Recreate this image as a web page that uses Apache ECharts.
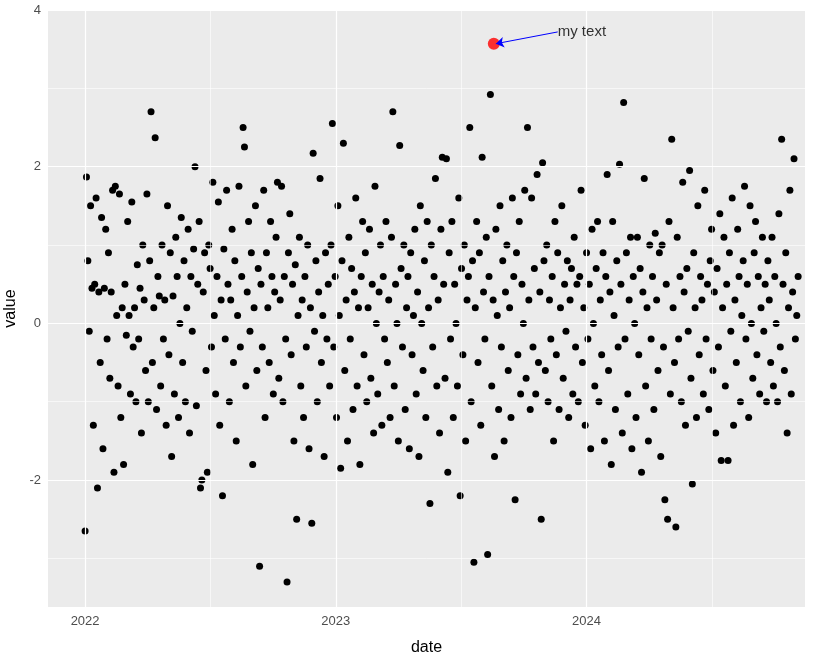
<!DOCTYPE html>
<html><head><meta charset="utf-8">
<script src="https://cdn.jsdelivr.net/npm/echarts@6/dist/echarts.min.js"></script>
<style>html,body{margin:0;padding:0;background:#fff}#c{width:818px;height:665px}</style>
</head><body><div id="c"></div>
<script>
const startDate = '2022-01-01';
const stepDays = 2;
const values = [
-2.65,1.87,0.8,-0.1,1.5,0.45,-1.3,0.5,1.6,-2.1,0.4,-0.5,1.35,-1.6,0.45,1.2,-0.2,0.9,-0.7,0.4,
1.7,-1.9,1.75,0.1,-0.8,1.65,-1.2,0.2,-1.8,0.5,-0.15,1.3,0.1,-0.9,1.55,-0.3,0.2,-1.0,0.75,-0.2,
0.45,-1.4,1.0,0.3,-0.6,1.65,-1.0,0.8,2.7,-0.5,0.2,2.37,-1.1,0.6,0.35,-0.8,1.0,-0.2,0.3,-1.3,
1.5,-0.4,0.9,-1.7,0.35,-0.9,1.1,0.6,-1.2,0.0,1.35,-0.5,0.8,-1.0,0.2,1.2,-1.4,0.6,-0.1,0.95,
2.0,-1.05,0.5,1.3,-2.1,-2.0,0.4,0.9,-0.6,-1.9,1.0,0.7,-0.3,1.8,0.1,-0.9,0.6,1.55,-1.3,0.3,
-2.2,0.95,-0.2,1.7,0.5,-1.0,0.3,1.2,-0.5,0.8,-1.5,0.1,1.75,-0.3,0.6,2.5,2.25,-0.8,0.4,1.3,
-0.1,0.9,-1.8,0.2,1.5,-0.6,0.7,-3.1,0.5,-0.3,1.7,-1.2,0.9,0.2,-0.5,1.3,0.6,-0.9,0.4,1.1,
1.8,-0.7,0.3,1.75,-1.0,0.6,-0.2,-3.3,0.9,1.4,-0.4,0.5,-1.5,0.75,-2.5,0.1,1.1,-0.8,0.3,-1.2,
0.6,-0.3,1.0,-1.6,0.2,-2.55,2.17,-0.1,0.8,-1.0,0.4,1.85,-0.5,0.1,-1.7,0.9,-0.2,0.5,-0.8,1.0,
2.55,-0.3,0.6,-1.2,1.5,0.1,-1.85,0.8,2.3,-0.6,0.3,-1.5,1.1,-0.2,0.7,-1.1,0.4,1.6,-0.8,0.2,
-1.8,0.6,1.3,-0.4,0.9,-1.0,0.2,1.2,-0.7,0.5,-1.4,1.75,0.0,-0.9,0.4,1.0,-1.3,0.6,-0.2,1.3,
-0.5,0.3,-1.2,1.1,2.7,-0.8,0.5,0.0,-1.5,2.27,0.7,-0.3,1.0,-1.1,0.2,0.6,-1.6,0.9,-0.4,0.1,
1.2,-0.9,0.4,-1.7,1.5,0.0,-0.6,0.8,-1.2,1.3,0.2,-2.3,1.0,-0.3,0.6,1.85,-0.8,0.3,-1.4,1.2,
2.12,0.5,-0.7,2.1,-1.9,0.9,-0.2,1.3,-1.2,0.5,0.0,-0.8,1.6,-2.2,0.7,-0.4,1.0,-1.5,0.3,0.6,
2.5,-1.0,0.8,-3.05,0.2,1.3,-0.5,0.9,-1.3,2.12,0.4,-0.2,1.1,-2.95,0.6,2.92,-0.8,0.3,-1.7,1.2,
0.1,-1.1,1.5,-0.3,0.8,-1.5,0.4,1.0,-0.6,0.2,-1.2,1.6,0.6,-2.25,0.9,-0.4,1.3,-0.9,0.5,0.0,
1.7,-0.7,2.5,0.3,-1.1,1.6,-0.3,0.7,-0.9,1.9,-0.5,0.4,-2.5,2.05,0.8,-0.6,1.0,-1.0,0.3,-0.2,
0.6,-1.5,1.3,-0.4,0.9,-1.1,0.2,1.5,-0.7,0.5,-0.1,0.8,-1.2,0.3,0.7,-0.9,1.1,-0.3,0.5,-1.0,
0.6,1.7,-0.5,0.2,-1.3,0.9,-0.2,0.5,-1.6,1.2,0.0,-0.8,0.7,1.3,-1.0,0.3,-0.4,0.9,-1.5,0.6,
1.9,-0.6,0.4,-1.8,1.3,0.1,-1.1,0.8,-0.3,2.03,0.5,-1.4,2.82,-0.2,0.9,-0.9,0.3,1.1,-1.6,0.6,
0.0,-1.2,1.1,-0.4,0.7,-1.9,0.4,1.85,-0.8,0.2,-1.5,1.0,-0.2,0.6,-1.1,1.15,0.3,-0.6,0.9,-1.7,
1.0,-0.3,-2.25,0.5,-2.5,1.3,-0.9,2.35,0.2,-0.5,-2.6,1.1,-0.2,0.6,-1.0,1.8,0.4,-1.3,0.7,-0.1,
1.95,-0.7,-2.05,0.9,0.2,-1.2,1.5,-0.4,0.6,0.3,-0.9,1.7,-0.2,0.5,-1.1,0.8,1.2,-0.6,0.4,-1.4,
0.7,-0.3,1.4,-1.75,0.2,1.1,-0.8,0.5,-1.75,0.9,-0.1,1.6,-1.3,0.3,-0.5,1.2,0.6,-1.0,0.1,0.8,
1.75,-0.2,0.5,-1.2,1.5,0.0,-0.7,0.9,1.3,-0.4,0.6,-0.9,0.2,1.1,-0.1,0.5,-1.0,0.8,0.3,-0.5,
1.1,-0.8,0.6,0.0,-1.0,1.4,-0.3,2.35,0.5,-0.6,0.9,-1.4,0.2,1.7,-0.9,0.4,2.1,-0.2,0.1,0.6
];
const highlightDate = '2023-08-19';
const highlightValue = 3.57;
const labelDate = '2023-11-20';
const labelValue = 3.72;
const labelText = 'my text';
const xTickLabels = ['2022','2023','2024'];
const xMinDate = '2021-11-08', xMaxDate = '2024-11-14';
const yTicks = [-2,0,2,4];

const DAY = 86400000;
const t0 = Date.UTC(2022,0,1);
const toDay = s => (Date.parse(s+'T00:00:00Z') - t0)/DAY;
const s0 = toDay(startDate);
const pts = values.map((v,i)=>[s0 + i*stepDays, v]);
const majorX = xTickLabels.map(y=>toDay(y+'-01-01'));
const minorX = majorX.map((d,i)=>d+182.5);
const minorY = [-3,-1,1,3];
const white = w=>({lineStyle:{color:'#fff',width:w,type:'solid'}});

const chart = echarts.init(document.getElementById('c'));
chart.setOption({
  backgroundColor:'#fff',
  animation:false,
  grid:{left:48,right:13,top:10,bottom:58,show:true,backgroundColor:'#EBEBEB',borderWidth:0,outerBoundsMode:'none',containLabel:false},
  xAxis:{type:'value',min:toDay(xMinDate),max:toDay(xMaxDate),
    name:'date',nameLocation:'middle',nameGap:33,nameTextStyle:{color:'#000',fontSize:16,fontFamily:'Liberation Sans'},
    axisLine:{show:false},
    axisTick:{show:true,customValues:majorX,length:4,lineStyle:{color:'#333'}},
    axisLabel:{customValues:majorX,formatter:v=>xTickLabels[majorX.indexOf(v)]||'',color:'#4D4D4D',fontSize:13,margin:8,fontFamily:'Liberation Sans'},
    splitLine:{show:false}},
  yAxis:{type:'value',min:-3.62,max:4,
    name:'value',nameLocation:'middle',nameGap:28,nameTextStyle:{color:'#000',fontSize:16,fontFamily:'Liberation Sans'},
    axisLine:{show:false},
    axisTick:{show:true,customValues:yTicks,length:4,lineStyle:{color:'#333'}},
    axisLabel:{customValues:yTicks,color:'#4D4D4D',fontSize:13,margin:7,fontFamily:'Liberation Sans'},
    splitLine:{show:false}},
  series:[
    {type:'scatter',data:[],silent:true,
     markLine:{silent:true,symbol:'none',label:{show:false},animation:false,
       data:[
         ...minorX.map(x=>({xAxis:x,...white(0.6)})),
         ...minorY.map(y=>({yAxis:y,...white(0.6)})),
         ...majorX.map(x=>({xAxis:x,...white(1.2)})),
         ...yTicks.map(y=>({yAxis:y,...white(1.2)}))
       ]}},
    {type:'scatter',data:pts,symbolSize:7,itemStyle:{color:'#000',opacity:1},z:3},
    {type:'scatter',data:[[toDay(highlightDate),highlightValue]],symbolSize:12,itemStyle:{color:'#FF0000'},z:4,
     markLine:{silent:true,symbol:['none','arrow'],symbolSize:[8,8],label:{show:false},
       lineStyle:{color:'#0000FF',width:1,type:'solid'},
       data:[[{coord:[toDay(labelDate),labelValue]},{coord:[toDay(highlightDate)+3,highlightValue]}]]}},
    {type:'scatter',data:[[toDay(labelDate),labelValue]],symbolSize:0,z:5,
     label:{show:true,position:'right',distance:0,formatter:labelText,color:'#000',fontSize:15,fontFamily:'Liberation Sans'}}
  ]
});
</script></body></html>
